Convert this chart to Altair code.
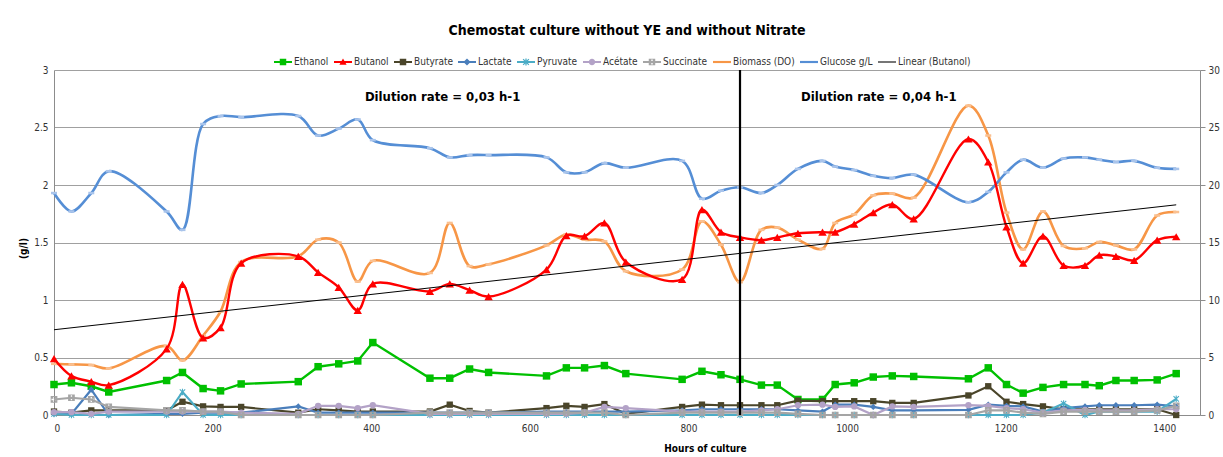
import altair as alt
import pandas as pd

# Sampling times (hours of culture)
HOURS = [0, 22, 47, 69, 142, 162, 188, 210, 236, 308, 333, 359, 383, 402,
         474, 499, 524, 548, 621, 646, 669, 694, 721, 792, 817, 841, 865, 892,
         912, 938, 969, 985, 1009, 1033, 1057, 1084, 1153, 1178, 1201, 1222,
         1247, 1273, 1300, 1318, 1339, 1362, 1391, 1415]

# Products, g/l (left axis)
ETHANOL = [0.265, 0.28, 0.25, 0.20, 0.30, 0.37, 0.23, 0.21, 0.27, 0.29, 0.42, 0.445, 0.47, 0.63,
           0.32, 0.32, 0.40, 0.37, 0.34, 0.41, 0.41, 0.43, 0.36, 0.31, 0.38, 0.35, 0.31, 0.26,
           0.26, 0.135, 0.135, 0.265, 0.28, 0.33, 0.34, 0.335, 0.315, 0.41, 0.265, 0.19,
           0.24, 0.265, 0.265, 0.255, 0.30, 0.30, 0.305, 0.36]
BUTANOL = [0.49, 0.34, 0.29, 0.26, 0.575, 1.135, 0.67, 0.76, 1.32, 1.38, 1.24, 1.11, 0.91, 1.14,
           1.075, 1.14, 1.085, 1.03, 1.265, 1.56, 1.555, 1.67, 1.33, 1.18, 1.785, 1.59, 1.545, 1.52,
           1.545, 1.58, 1.59, 1.59, 1.66, 1.76, 1.83, 1.705, 2.40, 2.20, 1.635, 1.32,
           1.555, 1.30, 1.30, 1.39, 1.38, 1.345, 1.52, 1.55]
BUTYRATE = [0.03, 0.02, 0.04, 0.04, 0.04, 0.115, 0.075, 0.07, 0.07, 0.02, 0.05, 0.04, 0.03, 0.03,
            0.03, 0.09, 0.035, 0.02, 0.06, 0.08, 0.07, 0.095, 0.01, 0.07, 0.09, 0.085, 0.085, 0.085,
            0.085, 0.125, 0.12, 0.12, 0.12, 0.12, 0.105, 0.105, 0.17, 0.25, 0.115, 0.095,
            0.075, 0.05, 0.05, 0.05, 0.05, 0.05, 0.05, 0.0]
LACTATE = [0.01, 0.01, 0.22, 0.0, 0.01, 0.01, 0.02, 0.02, 0.02, 0.075, 0.02, 0.02, 0.02, 0.02,
           0.02, 0.02, 0.02, 0.02, 0.03, 0.03, 0.03, 0.03, 0.03, 0.04, 0.05, 0.05, 0.05, 0.05,
           0.05, 0.04, 0.03, 0.09, 0.09, 0.07, 0.04, 0.04, 0.045, 0.09, 0.08, 0.075,
           0.03, 0.06, 0.075, 0.085, 0.085, 0.085, 0.09, 0.075]
PYRUVATE = [0.01, 0.0, 0.0, 0.0, 0.0, 0.20, 0.0, 0.0, 0.0, 0.0, 0.0, 0.0, 0.0, 0.0,
            0.0, 0.0, 0.0, 0.0, 0.0, 0.0, 0.0, 0.0, 0.0, 0.0, 0.0, 0.0, 0.0, 0.0,
            0.0, 0.0, 0.0, 0.0, 0.0, 0.0, 0.0, 0.0, 0.0, 0.0, 0.0, 0.0,
            0.02, 0.10, 0.0, 0.03, 0.03, 0.03, 0.03, 0.14]
ACETATE = [0.025, 0.025, 0.01, 0.03, 0.03, 0.03, 0.03, 0.03, 0.02, 0.01, 0.08, 0.08, 0.06, 0.085,
           0.01, 0.01, 0.01, 0.01, 0.01, 0.01, 0.02, 0.07, 0.06, 0.03, 0.03, 0.03, 0.03, 0.04,
           0.05, 0.085, 0.09, 0.07, 0.075, 0.0, 0.075, 0.07, 0.085, 0.08, 0.06, 0.05,
           0.02, 0.04, 0.045, 0.04, 0.04, 0.04, 0.05, 0.05]
SUCCINATE = [0.135, 0.15, 0.135, 0.07, 0.04, 0.04, 0.03, 0.03, 0.0, 0.0, 0.0, 0.0, 0.0, 0.0,
             0.02, 0.02, 0.02, 0.02, 0.02, 0.02, 0.02, 0.02, 0.0, 0.02, 0.02, 0.02, 0.02, 0.02,
             0.02, 0.01, 0.0, 0.0, 0.0, 0.0, 0.0, 0.0, 0.0, 0.04, 0.04, 0.02,
             0.01, 0.03, 0.03, 0.03, 0.03, 0.03, 0.04, 0.08]

# Biomass and residual glucose (right axis)
BIOMASS = [4.45, 4.4, 4.35, 4.05, 6.0, 4.75, 6.9, 9.0, 13.3, 13.8, 15.25, 15.0, 11.6, 13.4,
           12.35, 16.7, 12.95, 13.1, 14.75, 15.7, 15.25, 15.1, 12.5, 12.65, 16.85, 14.8, 11.55, 16.1,
           16.3, 15.25, 14.45, 16.7, 17.45, 19.1, 19.25, 18.9, 26.9, 24.3, 17.6, 14.4,
           17.7, 14.7, 14.5, 15.05, 14.75, 14.4, 17.35, 17.65]
GLUCOSE = [19.3, 17.7, 19.3, 21.2, 17.7, 16.1, 25.3, 26.0, 25.9, 26.0, 24.3, 24.9, 25.7, 23.9,
           23.2, 22.4, 22.6, 22.6, 22.4, 21.1, 21.1, 21.9, 21.5, 22.1, 18.8, 19.5, 19.8, 19.3,
           20.0, 21.4, 22.1, 21.6, 21.3, 20.8, 20.6, 20.9, 18.5, 19.4, 21.1, 22.2,
           21.5, 22.3, 22.4, 22.2, 22.0, 22.1, 21.5, 21.4]

SERIES = ["Ethanol", "Butanol", "Butyrate", "Lactate", "Pyruvate", "Acétate",
          "Succinate", "Biomass (DO)", "Glucose g/L", "Linear (Butanol)"]
COLORS = ["#00C000", "#FF0000", "#4A452A", "#4A7EBB", "#4BACC6", "#B3A2C7",
          "#A5A5A5", "#F79646", "#558ED5", "#000000"]

LEFT_TICKS = [0, 0.5, 1, 1.5, 2, 2.5, 3]
RIGHT_TICKS = [0, 5, 10, 15, 20, 25, 30]
X_TICKS = [0, 200, 400, 600, 800, 1000, 1200, 1400]

SHIFT_HOUR = [865]
NOTES = ["Dilution rate = 0,03 h-1", "Dilution rate = 0,04 h-1"]
NOTE_HOURS = [392, 942]
NOTE_LEVELS = [2.765, 2.765]

TITLE = "Chemostat culture without YE and without Nitrate"

FONT = "DejaVu Sans Condensed, DejaVu Sans, sans-serif"
W, H = 1146, 345

columns = {
    "Ethanol": ETHANOL, "Butanol": BUTANOL, "Butyrate": BUTYRATE, "Lactate": LACTATE,
    "Pyruvate": PYRUVATE, "Acétate": ACETATE, "Succinate": SUCCINATE,
    "Biomass (DO)": BIOMASS, "Glucose g/L": GLUCOSE,
}
rows = []
for name, vals in columns.items():
    for h, v in zip(HOURS, vals):
        rows.append({"h": h, "s": name, "v": v})
df = pd.DataFrame(rows)
color_of = dict(zip(SERIES, COLORS))


# ---- marker glyphs (unit box -1..1) ----
def rect(x0, y0, x1, y1):
    return f"M{x0},{y0}H{x1}V{y1}H{x0}Z"


def square(r):
    return rect(-r, -r, r, r)


def triangle(r):
    return f"M0,{-r}L{r},{0.75 * r}L{-r},{0.75 * r}Z"


def diamond(r):
    return f"M0,{-r}L{r},0L0,{r}L{-r},0Z"


def circle(r):
    return f"M{-r},0A{r},{r} 0 1,1 {r},0A{r},{r} 0 1,1 {-r},0Z"


def asterisk(r, t):
    a = r * 0.8
    n = t * 0.7071
    d1 = f"M{-a + n},{-a - n}L{a + n},{a - n}L{a - n},{a + n}L{-a - n},{-a + n}Z"
    d2 = f"M{-a - n},{a - n}L{a - n},{-a - n}L{a + n},{-a + n}L{-a + n},{a + n}Z"
    return rect(-t, -r, t, r) + d1 + d2


def plus_hole(r, t):
    # square with a plus cut out (reverse winding)
    a = r * 0.75
    hole = (f"M{-t},{-a}V{-t}H{-a}V{t}H{-t}V{a}H{t}V{t}H{a}V{-t}H{t}V{-a}Z")
    return rect(-r, -r, r, r) + hole


DASH = rect(-1, -0.42, 1, 0.42)

# legend glyphs: a short line with the marker on it
LINE = rect(-1, -0.12, 1, 0.12)
LEGEND_PATHS = [
    LINE + square(0.36),
    LINE + triangle(0.4),
    LINE + square(0.36),
    LINE + diamond(0.4),
    LINE + asterisk(0.4, 0.07),
    LINE + circle(0.36),
    LINE + plus_hole(0.36, 0.08),
    LINE,
    LINE,
    rect(-1, -0.06, 1, 0.06),
]

AX = dict(labelFont=FONT, labelFontSize=10, labelColor="#333333",
          titleFont=FONT, titleFontSize=10, titleColor="#000000", titleFontWeight="bold",
          domainColor="#8C8C8C", domainWidth=1)

X = alt.X("h:Q", scale=alt.Scale(domain=[0, 1445], nice=False, zero=False),
          axis=alt.Axis(values=X_TICKS, format="d", title="Hours of culture", grid=False,
                        ticks=False, labelPadding=8, titleX=651, titleY=28, **AX))
YL = alt.Y("v:Q", scale=alt.Scale(domain=[0, 3], nice=False),
           axis=alt.Axis(values=LEFT_TICKS, format="~g", title="(g/l)", grid=True,
                         gridColor="#A0A0A0", gridWidth=1, ticks=False, labelPadding=6,
                         titleX=-26, titleY=178, **AX))
YR = alt.Y("v:Q", scale=alt.Scale(domain=[0, 30], nice=False),
           axis=alt.Axis(orient="right", values=RIGHT_TICKS, format="d", title=None,
                         grid=False, ticks=True, tickSize=5, tickColor="#8C8C8C",
                         labelPadding=3, **AX))


def src(name):
    return alt.Chart(df).transform_filter(alt.datum.s == name)


def line(name, y, interp="linear", width=2.4):
    return src(name).mark_line(color=color_of[name], strokeWidth=width,
                               interpolate=interp).encode(x=X, y=y)


def marks(name, y, shape, size, color=None):
    return src(name).mark_point(shape=shape, size=size, filled=True, opacity=1,
                                strokeWidth=0,
                                color=color or color_of[name]).encode(x=X, y=y)


right = alt.layer(
    line("Biomass (DO)", YR, "catmull-rom", 2.6),
    marks("Biomass (DO)", YR, DASH, 36, "#FAC090"),
    line("Glucose g/L", YR, "catmull-rom", 2.6),
    marks("Glucose g/L", YR, DASH, 36, "#A9C4EB"),
)

trend = (src("Butanol").transform_regression("h", "v")
         .mark_line(color="black", strokeWidth=1).encode(x=X, y=YL))

shift = alt.Chart(pd.DataFrame({"h": SHIFT_HOUR})).mark_rule(
    color="black", strokeWidth=2.2).encode(x=X)

notes = alt.Chart(pd.DataFrame({"h": NOTE_HOURS, "v": NOTE_LEVELS, "t": NOTES})).mark_text(
    align="left", baseline="middle", font=FONT, fontSize=13, fontWeight="bold",
    color="black").encode(x=X, y=YL, text="t:N")

LEG = dict(title=None, orient="none", direction="horizontal", columns=10,
           legendX=220, legendY=-17, symbolSize=324, symbolStrokeWidth=0,
           symbolOpacity=1, columnPadding=5, labelFont=FONT, labelFontSize=10,
           labelColor="#333333", labelOffset=2)

legend_src = alt.Chart(pd.DataFrame({"s": SERIES})).mark_point(
    filled=True, opacity=0).encode(
    color=alt.Color("s:N", scale=alt.Scale(domain=SERIES, range=COLORS),
                    legend=alt.Legend(**LEG)),
    shape=alt.Shape("s:N", scale=alt.Scale(domain=SERIES, range=LEGEND_PATHS),
                    legend=alt.Legend(**LEG)),
)

left = alt.layer(
    line("Ethanol", YL, width=2.4),
    marks("Ethanol", YL, "square", 56),
    line("Butanol", YL, "catmull-rom", 2.4),
    marks("Butanol", YL, "triangle-up", 70),
    line("Butyrate", YL, width=2.2),
    marks("Butyrate", YL, "square", 40),
    line("Lactate", YL, width=2.2),
    marks("Lactate", YL, "diamond", 40),
    line("Pyruvate", YL, width=2.2),
    marks("Pyruvate", YL, asterisk(1, 0.16), 45),
    line("Acétate", YL, width=2.2),
    marks("Acétate", YL, "circle", 40),
    line("Succinate", YL, width=2.2),
    marks("Succinate", YL, plus_hole(1, 0.2), 45),
    trend,
    shift,
    notes,
    legend_src,
)

chart = (
    alt.layer(right, left)
    .resolve_scale(y="independent")
    .properties(
        width=W, height=H,
        title=alt.TitleParams(TITLE, font=FONT, fontSize=14, fontWeight="bold",
                              color="#000000", anchor="middle", frame="group", offset=15),
        autosize=alt.AutoSizeParams(type="none"),
        padding={"left": 54, "top": 70, "right": 23, "bottom": 42},
        background="white",
    )
    .configure_view(stroke=None)
)

chart.save("out.html", embed_options={"renderer": "svg", "actions": False})
